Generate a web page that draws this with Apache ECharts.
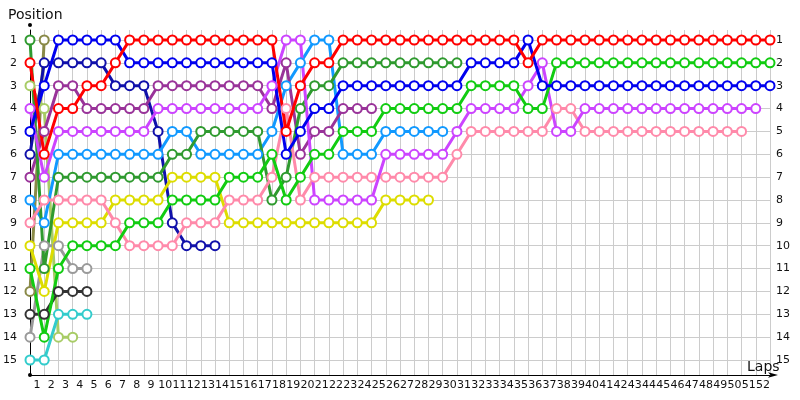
<!DOCTYPE html>
<html>
<head>
<meta charset="utf-8">
<script src="https://cdn.jsdelivr.net/npm/echarts@6/dist/echarts.min.js"></script>
<style>
  html, body { margin: 0; padding: 0; background: #fff; }
  #chart { width: 800px; height: 400px; }
</style>
</head>
<body>
<div id="chart"></div>
<script>
// laps 0..52 (lap 0 = grid)
const laps = [0,1,2,3,4,5,6,7,8,9,10,11,12,13,14,15,16,17,18,19,20,21,22,23,24,25,26,
  27,28,29,30,31,32,33,34,35,36,37,38,39,40,41,42,43,44,45,46,47,48,49,50,51,52];
const lapLabels = ['1','2','3','4','5','6','7','8','9','10','11','12','13','14','15','16','17',
  '18','19','20','21','22','23','24','25','26','27','28','29','30','31','32','33','34','35',
  '36','37','38','39','40','41','42','43','44','45','46','47','48','49','50','51','52'];

// positions per lap
const red = [2,6,4,4,3,3,2,1,1,1,1,1,1,1,1,1,1,1,5,3,2,2,1,1,1,1,1,1,1,1,1,1,1,1,1,2,
  1,1,1,1,1,1,1,1,1,1,1,1,1,1,1,1,1];
const blue = [5,3,1,1,1,1,1,2,2,2,2,2,2,2,2,2,2,2,6,5,4,4,3,3,3,3,3,3,3,3,3,2,2,2,2,1,
  3,3,3,3,3,3,3,3,3,3,3,3,3,3,3,3,3];
const navy = [6,2,2,2,2,2,3,3,3,5,9,10,10,10];
const darkGreen = [1,11,7,7,7,7,7,7,7,7,6,6,5,5,5,5,5,8,7,4,3,3,2,2,2,2,2,2,2,2,2];
const green = [11,14,11,10,10,10,10,9,9,9,8,8,8,8,7,7,7,6,8,7,6,6,5,5,5,4,4,4,4,4,4,3,3,3,3,4,
  4,2,2,2,2,2,2,2,2,2,2,2,2,2,2,2,2];
const purple = [7,5,3,3,4,4,4,4,4,3,3,3,3,3,3,3,3,4,2,6,5,5,4,4,4];
const violet = [4,7,5,5,5,5,5,5,5,4,4,4,4,4,4,4,4,3,1,1,8,8,8,8,8,6,6,6,6,6,5,4,4,4,4,3,
  2,5,5,4,4,4,4,4,4,4,4,4,4,4,4,4];
const lightBlue = [8,9,6,6,6,6,6,6,6,6,5,5,6,6,6,6,6,5,3,2,1,1,6,6,6,5,5,5,5,5];
const yellow = [10,12,9,9,9,9,8,8,8,8,7,7,7,7,9,9,9,9,9,9,9,9,9,9,9,8,8,8,8];
const pink = [9,8,8,8,8,8,9,10,10,10,10,9,9,9,8,8,8,7,4,8,7,7,7,7,7,7,7,7,7,7,6,5,5,5,5,5,
  5,4,4,5,5,5,5,5,5,5,5,5,5,5,5];
const olive = [12,1];
const lightGreen = [3,4,14,14];
const gray = [14,10,10,11,11];
const black = [13,13,12,12,12];
const cyan = [15,15,13,13,13];

const positions = [1,2,3,4,5,6,7,8,9,10,11,12,13,14,15];

const drivers = [
  { data: olive, color: '#8a8a48' },
  { data: lightGreen, color: '#a8cc66' },
  { data: gray, color: '#9a9a9a' },
  { data: black, color: '#333333' },
  { data: cyan, color: '#33cccc' },
  { data: navy, color: '#1010aa' },
  { data: yellow, color: '#dddd00' },
  { data: lightBlue, color: '#1199ff' },
  { data: purple, color: '#993399' },
  { data: darkGreen, color: '#2f9a2f' },
  { data: pink, color: '#ff8aaa' },
  { data: violet, color: '#cc44ff' },
  { data: green, color: '#11cc11' },
  { data: blue, color: '#0000ee' },
  { data: red, color: '#ff0000' }
];

const chart = echarts.init(document.getElementById('chart'));
const font = 'DejaVu Sans';

const yCommon = {
  type: 'value',
  inverse: true,
  min: 0.5625,
  max: 15.656,
  splitNumber: 15,
  minInterval: 1,
  maxInterval: 1,
  axisTick: { show: false }
};

chart.setOption({
  animation: false,
  title: [
    { text: 'Position', left: 3, top: 3, textStyle: { fontFamily: font, fontSize: 14, fontWeight: 'normal', color: '#111' } },
    { text: 'Laps', left: 742, top: 355, textStyle: { fontFamily: font, fontSize: 14, fontWeight: 'normal', color: '#111' } }
  ],
  grid: { left: 30, right: 30, top: 30, bottom: 25 },
  xAxis: [
    {
      type: 'category',
      data: laps,
      boundaryGap: false,
      axisLine: { lineStyle: { color: '#000', width: 1 }, symbol: ['circle', 'arrow'], symbolSize: [4, 10], symbolOffset: [0, 8] },
      axisTick: { show: false },
      axisLabel: { show: false },
      splitLine: { show: true, interval: 0, lineStyle: { color: '#cccccc' } }
    },
    {
      type: 'category',
      data: lapLabels,
      boundaryGap: true,
      position: 'bottom',
      axisLine: { show: false },
      axisTick: { show: false },
      splitLine: { show: false },
      axisLabel: { interval: 0, margin: 5, fontFamily: font, fontSize: 11, color: '#111' }
    }
  ],
  yAxis: [
    Object.assign({}, yCommon, {
      position: 'left',
      axisLine: { show: true, lineStyle: { color: '#000', width: 1 }, symbol: ['none', 'circle'], symbolSize: [4, 4], symbolOffset: [0, 5] },
      axisLabel: {
        margin: 13, fontFamily: font, fontSize: 11, color: '#111',
        showMinLabel: false, showMaxLabel: false,
        formatter: v => positions.includes(v) ? String(v) : ''
      },
      splitLine: { show: true, showMinLine: false, showMaxLine: false, lineStyle: { color: '#cccccc' } }
    }),
    Object.assign({}, yCommon, {
      position: 'right',
      axisLine: { show: false },
      axisLabel: {
        margin: 6, fontFamily: font, fontSize: 11, color: '#111',
        showMinLabel: false, showMaxLabel: false,
        formatter: v => positions.includes(v) ? String(v) : ''
      },
      splitLine: { show: false }
    })
  ],
  series: drivers.map(d => ({
    type: 'line',
    data: d.data,
    xAxisIndex: 0,
    yAxisIndex: 0,
    symbol: 'emptyCircle',
    symbolSize: 9,
    showAllSymbol: true,
    lineStyle: { width: 3, color: d.color },
    itemStyle: { color: d.color, borderWidth: 1 }
  }))
});
</script>
</body>
</html>
